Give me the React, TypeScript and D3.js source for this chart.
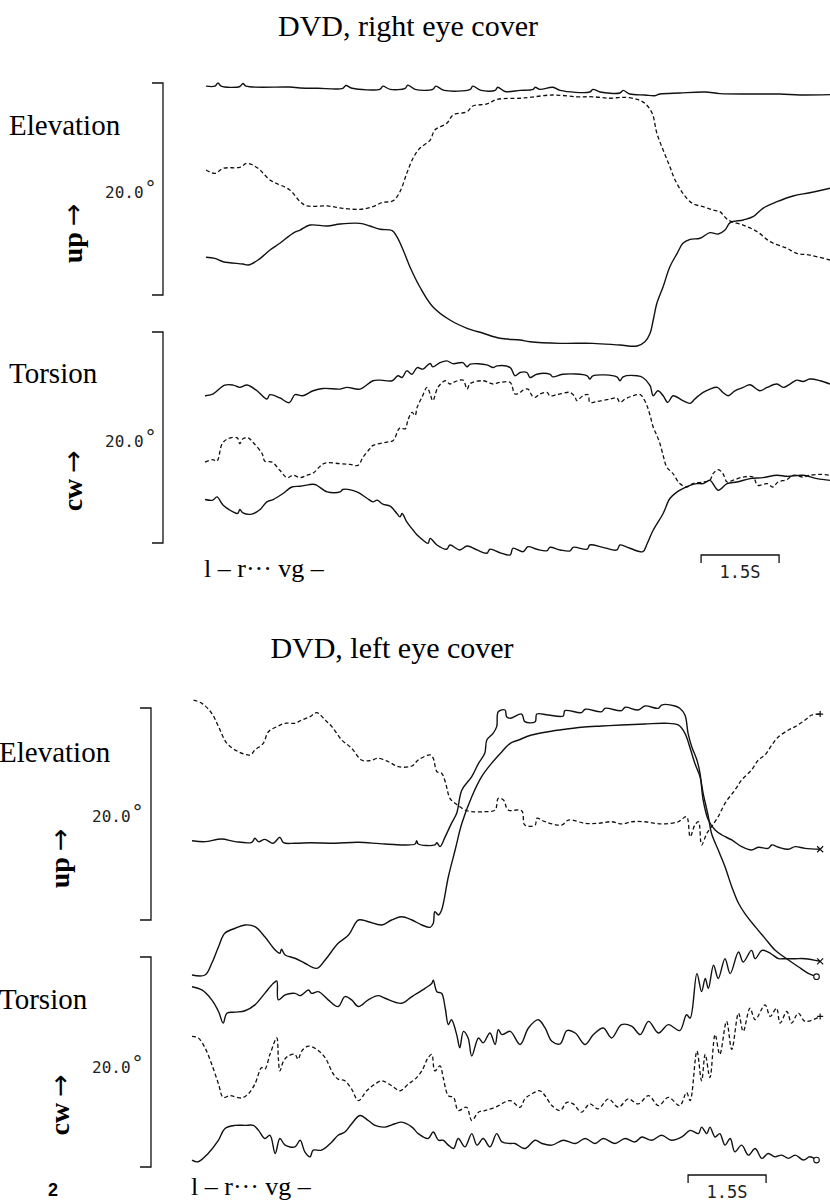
import * as d3 from 'd3';

// time in seconds, angle in degrees (0 = foot of the 20 deg bracket)
type Pt = [number, number];

// ---- DVD, right eye cover ----
const rightElevTop: Pt[] = [
  [0.02, 19.7], [0.19, 19.7], [0.25, 20.0], [0.31, 19.7], [0.67, 19.67], [0.73, 19.95], [0.79, 19.7], [1.63, 19.62],
  [1.83, 19.53], [2.17, 19.5], [2.65, 19.5], [2.71, 19.76], [2.83, 19.5], [3.37, 19.43], [3.42, 19.7], [3.56, 19.4],
  [3.85, 19.5], [3.9, 19.8], [4.04, 19.4], [4.38, 19.4], [4.44, 19.7], [4.6, 19.3], [5.1, 19.4], [5.15, 19.7],
  [5.31, 19.3], [5.58, 19.3], [5.63, 19.6], [5.77, 19.2], [6.06, 19.3], [6.31, 19.4], [6.35, 19.6], [6.44, 19.4],
  [6.69, 19.6], [6.83, 19.3], [7.4, 19.15], [7.46, 19.4], [7.6, 19.15], [7.98, 19.06], [8.04, 19.3], [8.17, 18.96],
  [8.46, 18.87], [8.65, 18.8], [8.75, 18.96], [9.13, 19.06], [9.62, 19.15], [9.9, 19.0], [10.48, 18.96],
  [11.06, 18.96], [11.44, 18.87], [12.02, 18.9],
];
const rightElevDashed: Pt[] = [
  [0.02, 11.79], [0.19, 11.48], [0.35, 11.95], [0.67, 12.05], [0.81, 12.42], [1.02, 11.95], [1.25, 10.85], [1.63, 9.91],
  [1.83, 8.8], [1.96, 8.4], [2.35, 8.4], [2.65, 8.18], [2.98, 8.08], [3.23, 8.33], [3.4, 8.71], [3.62, 8.9],
  [3.75, 9.75], [3.88, 11.48], [4.0, 12.9], [4.13, 13.84], [4.33, 14.62], [4.42, 15.57], [4.65, 16.2], [4.77, 16.98],
  [5.04, 17.29], [5.15, 17.83], [5.42, 18.02], [5.62, 18.46], [6.06, 18.56], [6.25, 18.65], [6.69, 18.87], [7.15, 18.7],
  [7.46, 18.7], [7.79, 18.56], [8.04, 18.65], [8.31, 18.46], [8.46, 18.08], [8.6, 17.14], [8.69, 15.25], [8.81, 13.68],
  [8.94, 12.1], [9.04, 10.85], [9.19, 9.59], [9.37, 8.65], [9.58, 8.33], [9.77, 8.02], [9.9, 7.86], [10.06, 7.08],
  [10.35, 6.6], [10.62, 5.97], [10.87, 5.03], [11.19, 4.41], [11.38, 3.93], [11.63, 3.77], [12.02, 3.3],
];
const rightElevBottom: Pt[] = [
  [0.02, 3.56], [0.19, 3.46], [0.35, 3.14], [0.73, 2.92], [0.83, 2.83], [1.02, 3.3], [1.25, 4.25], [1.44, 4.88],
  [1.69, 5.82], [1.83, 6.13], [2.02, 6.6], [2.35, 6.51], [2.6, 6.7], [2.98, 6.76], [3.17, 6.51], [3.37, 6.2],
  [3.6, 6.07], [3.69, 5.5], [3.81, 4.25], [3.94, 2.67], [4.13, 0.78], [4.38, -1.1], [4.71, -2.36], [5.04, -3.14],
  [5.35, -3.61], [5.67, -4.08], [6.06, -4.25], [6.25, -4.41], [6.83, -4.56], [7.46, -4.56], [7.98, -4.72],
  [8.31, -4.81], [8.46, -4.41], [8.56, -3.61], [8.62, -2.36], [8.69, -0.78], [8.81, 0.78], [8.94, 2.67], [9.08, 3.93],
  [9.19, 4.88], [9.33, 5.25], [9.52, 5.35], [9.71, 5.88], [9.87, 5.75], [10.0, 6.13], [10.1, 6.82], [10.35, 7.08],
  [10.54, 7.39], [10.73, 8.18], [11.0, 8.8], [11.31, 9.34], [11.63, 9.65], [12.02, 10.07],
];
const rightTorsTop: Pt[] = [
  [0, 13.96], [0.15, 14.12], [0.38, 14.97], [0.54, 14.97], [0.67, 14.75], [0.81, 14.97], [1.0, 14.43], [1.19, 13.65],
  [1.25, 14.06], [1.44, 13.75], [1.62, 13.3], [1.73, 14.06], [1.88, 13.96], [2.08, 14.43], [2.27, 14.65], [2.6, 14.59],
  [2.73, 14.75], [2.98, 14.59], [3.23, 15.38], [3.37, 15.44], [3.6, 15.38], [3.71, 15.85], [3.79, 15.69], [3.88, 16.32],
  [3.98, 16.0], [4.08, 16.63], [4.19, 16.48], [4.33, 17.01], [4.38, 16.7], [4.52, 17.1], [4.65, 17.26], [4.77, 17.0],
  [4.96, 17.1], [5.04, 16.7], [5.1, 16.95], [5.42, 16.89], [5.54, 16.63], [5.62, 16.79], [5.87, 16.63], [5.96, 15.85],
  [6.06, 16.16], [6.19, 16.16], [6.25, 15.69], [6.38, 16.0], [6.63, 16.0], [6.69, 15.75], [6.88, 16.0], [7.35, 15.85],
  [7.4, 15.54], [7.46, 15.85], [7.92, 15.75], [7.98, 15.38], [8.04, 15.75], [8.31, 15.85], [8.42, 15.69], [8.56, 14.91],
  [8.62, 13.96], [8.71, 14.43], [8.81, 13.96], [8.9, 13.33], [9.0, 13.96], [9.19, 13.49], [9.33, 13.24], [9.42, 13.65],
  [9.58, 14.27], [9.71, 14.59], [9.85, 14.75], [9.96, 14.27], [10.06, 13.96], [10.19, 14.43], [10.35, 14.75],
  [10.48, 15.0], [10.67, 14.43], [10.81, 14.75], [11.0, 15.07], [11.12, 14.75], [11.25, 15.07], [11.38, 15.44],
  [11.5, 15.31], [11.63, 15.54], [11.83, 15.38], [12.02, 15.07],
];
const rightTorsDashed: Pt[] = [
  [0, 7.67], [0.15, 7.9], [0.23, 7.76], [0.33, 9.41], [0.44, 9.88], [0.62, 9.97], [0.67, 9.41], [0.73, 9.88],
  [0.83, 9.97], [0.92, 9.56], [1.1, 8.46], [1.15, 7.76], [1.29, 7.67], [1.44, 6.89], [1.58, 6.2], [1.69, 6.42],
  [1.83, 6.2], [1.96, 6.42], [2.08, 6.63], [2.21, 7.26], [2.31, 7.58], [2.6, 7.52], [2.79, 7.45], [2.94, 7.36],
  [3.04, 8.14], [3.17, 8.93], [3.23, 9.25], [3.5, 9.56], [3.62, 9.72], [3.71, 10.66], [3.75, 10.92], [3.85, 10.82],
  [3.9, 11.6], [3.98, 12.39], [4.04, 12.08], [4.08, 12.86], [4.17, 13.8], [4.27, 14.75], [4.33, 14.12], [4.38, 13.49],
  [4.48, 14.75], [4.62, 15.38], [4.71, 15.07], [4.77, 15.22], [4.96, 15.44], [5.04, 14.59], [5.1, 15.12], [5.35, 15.38],
  [5.54, 15.07], [5.67, 15.22], [5.87, 15.22], [5.96, 14.12], [6.06, 14.27], [6.12, 14.5], [6.21, 14.59], [6.29, 13.96],
  [6.35, 13.8], [6.44, 14.12], [6.58, 14.27], [6.63, 13.96], [6.77, 14.06], [7.02, 14.27], [7.12, 13.8], [7.15, 13.49],
  [7.27, 13.96], [7.37, 14.06], [7.4, 13.33], [7.54, 13.42], [7.79, 13.65], [7.92, 13.75], [7.98, 13.33], [8.08, 13.65],
  [8.23, 13.96], [8.37, 14.06], [8.42, 13.8], [8.5, 13.02], [8.56, 12.08], [8.62, 10.97], [8.69, 10.19], [8.75, 9.41],
  [8.81, 8.3], [8.88, 7.2], [9.0, 6.58], [9.13, 5.63], [9.27, 5.31], [9.38, 5.63], [9.58, 5.78], [9.71, 5.94],
  [9.77, 6.58], [9.87, 6.95], [9.96, 6.58], [10.04, 5.78], [10.15, 5.94], [10.35, 6.25], [10.54, 6.25], [10.63, 5.47],
  [10.81, 5.63], [10.92, 5.31], [11.02, 5.78], [11.19, 6.01], [11.31, 6.42], [11.5, 6.25], [11.63, 6.42],
  [11.83, 6.51], [12.02, 6.42],
];
const rightTorsBottom: Pt[] = [
  [0, 4.12], [0.15, 4.06], [0.23, 4.37], [0.35, 3.58], [0.54, 2.95], [0.63, 2.8], [0.67, 3.18], [0.73, 2.86],
  [0.9, 2.74], [1.06, 3.18], [1.19, 3.9], [1.31, 4.12], [1.5, 4.69], [1.67, 5.31], [1.83, 5.38], [2.08, 5.57],
  [2.15, 5.47], [2.35, 4.84], [2.6, 4.84], [2.65, 5.07], [2.92, 4.84], [3.12, 4.22], [3.23, 3.9], [3.31, 4.06],
  [3.42, 3.68], [3.56, 3.49], [3.69, 2.8], [3.75, 2.48], [3.79, 2.8], [3.88, 2.01], [4.0, 1.23], [4.08, 0.75],
  [4.19, 0.28], [4.29, -0.03], [4.33, 0.44], [4.46, -0.19], [4.65, -0.59], [4.71, -0.19], [4.9, -0.66], [5.04, -0.28],
  [5.23, -0.66], [5.42, -0.97], [5.48, -0.59], [5.67, -0.92], [5.87, -1.13], [5.92, -0.5], [6.12, -0.82], [6.21, -0.35],
  [6.38, -0.59], [6.58, -0.73], [6.63, -0.41], [6.83, -0.66], [7.02, -0.75], [7.08, -0.41], [7.35, -0.59], [7.4, -0.19],
  [7.65, -0.41], [7.92, -0.66], [7.98, -0.19], [8.17, -0.5], [8.42, -0.82], [8.5, -0.09], [8.62, 1.23], [8.81, 2.8],
  [8.94, 4.22], [9.08, 4.84], [9.19, 5.16], [9.33, 5.47], [9.46, 5.63], [9.58, 5.63], [9.71, 5.94], [9.87, 5.0],
  [10.04, 5.63], [10.23, 5.78], [10.48, 6.1], [10.73, 6.2], [11.0, 6.42], [11.19, 6.32], [11.5, 6.42], [11.77, 6.1],
  [12.02, 5.94],
];

// ---- DVD, left eye cover ----
const leftElevDashed: Pt[] = [
  [0.03, 20.75], [0.19, 20.44], [0.38, 19.5], [0.51, 18.24], [0.67, 16.67], [0.89, 15.88], [1.12, 15.57], [1.21, 16.04],
  [1.37, 16.67], [1.47, 17.76], [1.66, 18.3], [1.79, 18.56], [1.98, 18.56], [2.11, 18.87], [2.27, 19.18], [2.4, 19.56],
  [2.56, 18.87], [2.69, 18.24], [2.88, 16.98], [3.07, 16.2], [3.26, 15.09], [3.42, 15.03], [3.58, 15.25], [3.78, 14.93],
  [3.97, 14.46], [4.23, 14.53], [4.35, 15.09], [4.58, 15.57], [4.64, 15.25], [4.71, 13.99], [4.8, 13.84], [4.87, 13.05],
  [4.96, 11.48], [5.06, 11.01], [5.15, 10.69], [5.25, 10.38], [5.38, 10.22], [5.63, 10.22], [5.83, 10.38], [5.89, 11.48],
  [5.99, 11.32], [6.08, 10.38], [6.34, 10.31], [6.4, 8.96], [6.6, 8.96], [6.63, 9.59], [6.79, 9.27], [7.11, 8.96],
  [7.24, 9.43], [7.56, 9.12], [7.81, 9.12], [8.07, 9.27], [8.26, 9.06], [8.46, 9.27], [8.71, 9.27], [9.03, 9.06],
  [9.35, 9.27], [9.51, 9.75], [9.58, 7.86], [9.67, 8.96], [9.74, 9.27], [9.8, 7.08], [9.9, 8.18], [9.99, 8.8],
  [10.12, 9.75], [10.25, 11.01], [10.44, 12.26], [10.57, 13.21], [10.76, 14.15], [10.89, 15.09], [11.02, 15.57],
  [11.15, 16.51], [11.28, 17.29], [11.47, 17.92], [11.6, 18.24], [11.79, 18.87], [11.92, 19.34], [12.08, 19.43],
];
const leftElevSolidA: Pt[] = [
  [0, 7.48], [0.25, 7.39], [0.57, 7.64], [0.83, 7.39], [1.15, 7.33], [1.21, 7.71], [1.28, 7.39], [1.4, 7.61],
  [1.56, 7.24], [1.69, 7.8], [1.76, 7.29], [1.98, 7.24], [2.3, 7.29], [2.75, 7.24], [3.2, 7.33], [3.71, 7.17],
  [4.29, 7.17], [4.32, 7.48], [4.35, 7.17], [4.67, 7.08], [4.71, 7.29], [4.77, 6.92], [4.87, 7.86], [4.99, 9.12],
  [5.09, 10.07], [5.19, 12.26], [5.38, 13.52], [5.51, 14.78], [5.63, 15.73], [5.67, 16.98], [5.79, 17.61], [5.86, 18.24],
  [5.89, 19.65], [6.02, 19.81], [6.05, 19.18], [6.12, 19.03], [6.34, 19.43], [6.4, 18.71], [6.6, 18.71], [6.63, 19.43],
  [6.85, 19.34], [7.14, 19.25], [7.17, 19.75], [7.49, 19.56], [7.56, 19.88], [7.88, 19.65], [7.94, 19.97], [8.26, 19.75],
  [8.33, 20.07], [8.58, 19.81], [8.71, 20.19], [8.97, 19.97], [9.03, 20.28], [9.29, 20.19], [9.38, 19.97], [9.48, 19.34],
  [9.54, 17.61], [9.61, 16.35], [9.71, 15.09], [9.77, 13.84], [9.83, 11.32], [9.93, 9.43], [10.06, 8.49], [10.19, 8.02],
  [10.38, 7.55], [10.57, 6.92], [10.76, 6.6], [10.89, 6.86], [11.08, 6.76], [11.15, 7.08], [11.28, 6.86], [11.47, 6.67],
  [11.6, 6.92], [11.79, 6.76], [12.08, 6.67],
];
const leftElevSolidB: Pt[] = [
  [0, -5.19], [0.25, -5.19], [0.38, -4.08], [0.51, -2.52], [0.63, -1.25], [0.83, -0.78], [1.02, -0.47], [1.21, -0.63],
  [1.4, -1.58], [1.6, -2.83], [1.69, -3.14], [1.72, -2.76], [1.79, -3.3], [1.98, -3.61], [2.17, -4.08], [2.4, -4.56],
  [2.56, -3.77], [2.81, -2.2], [3.01, -1.42], [3.2, 0], [3.39, -0.16], [3.65, -0.47], [3.84, 0], [4.03, 0.31],
  [4.23, 0], [4.42, -0.47], [4.58, -0.69], [4.64, -0.31], [4.67, 0.78], [4.74, 0.47], [4.8, 0.94], [4.93, 4.08],
  [5.06, 6.6], [5.19, 9.12], [5.38, 11.63], [5.57, 13.52], [5.76, 14.78], [5.96, 15.88], [6.12, 16.67], [6.28, 16.98],
  [6.53, 17.45], [6.85, 17.76], [7.17, 17.99], [7.49, 18.18], [7.88, 18.3], [8.26, 18.4], [8.71, 18.49], [9.1, 18.56],
  [9.35, 18.4], [9.48, 17.61], [9.58, 16.2], [9.67, 14.78], [9.77, 13.52], [9.83, 11.95], [9.93, 9.75], [9.99, 8.18],
  [10.12, 6.6], [10.25, 5.03], [10.38, 3.14], [10.51, 1.58], [10.63, 0.63], [10.83, -0.63], [11.02, -1.73],
  [11.21, -2.83], [11.47, -3.77], [11.66, -4.41], [11.85, -5.03], [12.01, -5.35],
];
const leftTorsTop: Pt[] = [
  [0, 17.17], [0.19, 16.86], [0.38, 15.92], [0.51, 14.81], [0.6, 13.71], [0.67, 14.65], [0.83, 14.75], [1.02, 14.88],
  [1.21, 15.44], [1.4, 16.54], [1.56, 17.48], [1.63, 17.71], [1.66, 15.92], [1.79, 16.39], [1.98, 16.54], [2.08, 16.32],
  [2.24, 16.86], [2.3, 16.54], [2.43, 16.7], [2.62, 15.92], [2.81, 15.28], [2.94, 16.23], [3.07, 15.92], [3.2, 15.28],
  [3.39, 15.92], [3.58, 16.32], [3.71, 16.07], [4.03, 15.59], [4.23, 16.23], [4.48, 17.01], [4.61, 17.48], [4.64, 17.8],
  [4.71, 16.7], [4.8, 16.54], [4.87, 15.12], [4.93, 13.56], [4.99, 14.03], [5.09, 12.61], [5.15, 11.35], [5.22, 12.92],
  [5.31, 12.29], [5.38, 10.57], [5.51, 12.29], [5.6, 11.82], [5.73, 12.76], [5.83, 11.67], [5.89, 13.08], [5.96, 12.61],
  [6.12, 12.92], [6.31, 11.67], [6.47, 13.24], [6.66, 14.03], [6.79, 13.24], [6.92, 11.98], [7.08, 11.73], [7.21, 12.99],
  [7.37, 12.76], [7.56, 11.67], [7.72, 12.61], [7.91, 13.24], [8.07, 12.29], [8.26, 13.56], [8.46, 13.4], [8.62, 12.61],
  [8.78, 13.87], [8.97, 12.76], [9.16, 13.56], [9.38, 12.99], [9.51, 14.5], [9.58, 14.18], [9.71, 18.42], [9.8, 16.7],
  [9.87, 17.95], [9.93, 17.01], [10.03, 19.22], [10.12, 17.95], [10.25, 19.84], [10.35, 18.42], [10.51, 20.47],
  [10.6, 19.53], [10.76, 20.63], [10.83, 19.84], [10.96, 20.63], [11.08, 20.47], [11.18, 20.16], [11.28, 19.84],
  [11.4, 19.84], [11.6, 19.84], [11.79, 19.84], [12.08, 19.59],
];
const leftTorsDashed: Pt[] = [
  [0, 12.45], [0.12, 12.29], [0.25, 11.35], [0.38, 9.78], [0.51, 7.9], [0.6, 6.63], [0.73, 6.79], [0.96, 6.58],
  [1.08, 6.95], [1.21, 7.9], [1.34, 9.46], [1.4, 9.31], [1.5, 10.73], [1.63, 12.29], [1.66, 10.41], [1.69, 9.15],
  [1.76, 10.09], [1.85, 10.57], [1.98, 10.73], [2.04, 10.25], [2.11, 11.04], [2.24, 11.51], [2.4, 11.2], [2.56, 10.41],
  [2.72, 8.84], [2.81, 8.37], [2.94, 8.21], [3.07, 7.42], [3.2, 6.32], [3.36, 7.26], [3.52, 7.9], [3.65, 8.21],
  [3.84, 7.74], [4.0, 7.26], [4.16, 7.9], [4.29, 8.37], [4.42, 9.15], [4.54, 10.41], [4.61, 10.73], [4.67, 9.15],
  [4.77, 9.62], [4.83, 8.52], [4.93, 6.79], [5.03, 6.63], [5.12, 5.38], [5.28, 5.69], [5.38, 4.43], [5.51, 5.22],
  [5.63, 5.38], [5.83, 5.69], [6.12, 6.32], [6.31, 5.69], [6.4, 6.48], [6.53, 6.95], [6.69, 7.26], [6.79, 6.79],
  [6.92, 5.85], [7.08, 5.38], [7.21, 6.16], [7.33, 6.01], [7.49, 5.22], [7.65, 6.01], [7.81, 5.54], [8.01, 6.48],
  [8.2, 5.69], [8.39, 6.48], [8.58, 6.01], [8.78, 6.79], [8.97, 5.85], [9.16, 6.63], [9.38, 5.85], [9.51, 7.1],
  [9.58, 6.32], [9.71, 11.04], [9.8, 8.21], [9.87, 10.73], [9.96, 8.52], [10.06, 12.61], [10.15, 10.73], [10.28, 13.87],
  [10.38, 11.2], [10.51, 14.65], [10.6, 12.92], [10.73, 15.12], [10.83, 14.03], [11.02, 15.44], [11.12, 14.34],
  [11.24, 15.12], [11.31, 13.71], [11.44, 14.81], [11.53, 13.71], [11.66, 14.65], [11.79, 13.87], [12.08, 14.34],
];
const leftTorsBottom: Pt[] = [
  [0, 0.66], [0.12, 0.5], [0.31, 1.29], [0.51, 2.55], [0.63, 3.65], [0.83, 3.96], [1.02, 3.96], [1.18, 3.96],
  [1.28, 3.49], [1.4, 2.71], [1.5, 3.02], [1.6, 1.29], [1.69, 2.71], [1.79, 2.08], [1.98, 1.92], [2.08, 2.55],
  [2.17, 1.44], [2.27, 0.97], [2.33, 1.6], [2.49, 1.6], [2.69, 2.39], [2.81, 3.02], [2.94, 3.33], [3.07, 4.12],
  [3.23, 4.91], [3.39, 4.43], [3.52, 3.96], [3.71, 3.8], [3.9, 4.12], [4.03, 4.27], [4.23, 3.8], [4.35, 3.18],
  [4.54, 2.71], [4.64, 3.33], [4.74, 2.55], [4.83, 2.55], [4.93, 2.08], [5.03, 1.76], [5.12, 2.71], [5.25, 1.92],
  [5.38, 3.18], [5.48, 2.08], [5.6, 2.71], [5.73, 1.92], [5.86, 3.18], [5.96, 2.39], [6.12, 2.24], [6.21, 2.24],
  [6.4, 1.76], [6.6, 2.55], [6.73, 2.24], [6.92, 2.08], [7.14, 2.55], [7.37, 2.24], [7.56, 2.71], [7.75, 2.24],
  [7.91, 2.71], [8.13, 2.24], [8.33, 2.71], [8.52, 2.39], [8.65, 2.86], [8.84, 2.55], [9.03, 3.02], [9.22, 2.55],
  [9.42, 2.86], [9.58, 3.49], [9.74, 3.18], [9.8, 3.8], [9.9, 3.18], [9.96, 3.8], [10.06, 2.86], [10.15, 3.18],
  [10.25, 2.08], [10.35, 2.71], [10.44, 1.44], [10.57, 2.08], [10.7, 1.13], [10.83, 1.76], [10.96, 0.82],
  [11.08, 1.29], [11.21, 0.97], [11.34, 1.13], [11.47, 0.82], [11.6, 1.13], [11.76, 0.66], [11.88, 0.97], [12.01, 0.66],
];

const legendText = 'l – r··· vg –';
const rangeValue = '20.0';
const scaleBarSeconds = 1.5;
const scaleBarStart = 9.54;
const timeSpan = 12;

type Trace = { data: Pt[]; dashed?: boolean; marker?: '+' | 'x' | 'o' };

const SERIF = '"Liberation Serif", "Times New Roman", serif';
const MONO = '"DejaVu Sans Mono", monospace';

function EndMarker({ kind, x, y }: { kind: string; x: number; y: number }) {
  const s = 3;
  if (kind === 'o') return <circle cx={x} cy={y} r={2.8} fill="white" stroke="#111" strokeWidth={1.1} />;
  if (kind === '+')
    return <path d={`M${x - s},${y}H${x + s}M${x},${y - s}V${y + s}`} stroke="#111" strokeWidth={1.2} />;
  return <path d={`M${x - s},${y - s}L${x + s},${y + s}M${x - s},${y + s}L${x + s},${y - s}`} stroke="#111" strokeWidth={1.2} />;
}

function SubPlot(props: {
  label: string; labelX: number; labelY: number;
  axisWord: string; wordX: number;
  rangeX: number; rangeY: number;
  bracketX: number; top: number; bottom: number;
  xScale: d3.ScaleLinear<number, number>;
  traces: Trace[];
}) {
  const y = d3.scaleLinear().domain([0, 20]).range([props.bottom, props.top]);
  const line = d3.line<Pt>()
    .x((d) => props.xScale(d[0]))
    .y((d) => y(d[1]))
    .curve(d3.curveCatmullRom.alpha(0.5));
  const bx = props.bracketX;
  const wordStart = y(0) - (y(0) - y(20)) * 0.15;
  return (
    <g>
      <text x={props.labelX} y={props.labelY} fontFamily={SERIF} fontSize={29}>{props.label}</text>
      <text transform={`translate(${props.wordX},${wordStart}) rotate(-90)`} fontFamily={SERIF} fontSize={28}>
        <tspan fontWeight="bold">{props.axisWord}</tspan>
        <tspan fontFamily='"DejaVu Sans", sans-serif' fontSize={27} dx={6}>→</tspan>
      </text>
      <text x={props.rangeX} y={props.rangeY} fontFamily={MONO} fontSize={16} fill="#222">
        {rangeValue}
        <tspan fontSize={20} dx={1} dy={-3}>°</tspan>
      </text>
      <path d={`M${bx - 11},${y(20)}H${bx}V${y(0)}H${bx - 11}`} fill="none" stroke="#111" strokeWidth={1.3} />
      {props.traces.map((t, i) => (
        <path key={i} d={line(t.data) || ''} fill="none" stroke="#111"
          strokeWidth={t.dashed ? 1.3 : 1.4} strokeDasharray={t.dashed ? '4 2.6' : undefined} strokeLinejoin="round" />
      ))}
      {props.traces.filter((t) => t.marker).map((t, i) => {
        const last = t.data[t.data.length - 1];
        return <EndMarker key={i} kind={t.marker as string} x={props.xScale(last[0])} y={y(last[1])} />;
      })}
    </g>
  );
}

function Panel(props: {
  title: string; titleX: number; titleY: number;
  x0: number; bracketX: number; labelX: number; wordX: number; rangeX: number;
  elev: { top: number; bottom: number; labelY: number; rangeY: number; traces: Trace[] };
  tors: { top: number; bottom: number; labelY: number; rangeY: number; traces: Trace[] };
  legendX: number; legendY: number; barY: number;
}) {
  const x = d3.scaleLinear().domain([0, timeSpan]).range([props.x0, props.x0 + 52 * timeSpan]);
  const b0 = x(scaleBarStart);
  const b1 = x(scaleBarStart + scaleBarSeconds);
  return (
    <g>
      <text x={props.titleX} y={props.titleY} textAnchor="middle" fontFamily={SERIF} fontSize={30}>{props.title}</text>
      <SubPlot label="Elevation" labelX={props.labelX} labelY={props.elev.labelY} axisWord="up" wordX={props.wordX}
        rangeX={props.rangeX} rangeY={props.elev.rangeY} bracketX={props.bracketX}
        top={props.elev.top} bottom={props.elev.bottom} xScale={x} traces={props.elev.traces} />
      <SubPlot label="Torsion" labelX={props.labelX} labelY={props.tors.labelY} axisWord="cw" wordX={props.wordX}
        rangeX={props.rangeX} rangeY={props.tors.rangeY} bracketX={props.bracketX}
        top={props.tors.top} bottom={props.tors.bottom} xScale={x} traces={props.tors.traces} />
      <text x={props.legendX} y={props.legendY} fontFamily={SERIF} fontSize={26}>{legendText}</text>
      <path d={`M${b0},${props.barY + 8}V${props.barY}H${b1}V${props.barY + 8}`} fill="none" stroke="#111" strokeWidth={1.3} />
      <text x={(b0 + b1) / 2} y={props.barY + 23} textAnchor="middle" fontFamily={MONO} fontSize={17} fill="#222">1.5S</text>
    </g>
  );
}

export default function App() {
  return (
    <svg width={830} height={1203} viewBox="0 0 830 1203"
      style={{ position: 'absolute', left: 0, top: 0, background: 'white' }}>
      <Panel title="DVD, right eye cover" titleX={408} titleY={36}
        x0={205} bracketX={163} labelX={9} wordX={82} rangeX={105}
        elev={{ top: 83, bottom: 295, labelY: 135, rangeY: 198, traces: [
          { data: rightElevTop }, { data: rightElevDashed, dashed: true }, { data: rightElevBottom },
        ] }}
        tors={{ top: 332, bottom: 543, labelY: 383, rangeY: 447, traces: [
          { data: rightTorsTop }, { data: rightTorsDashed, dashed: true }, { data: rightTorsBottom },
        ] }}
        legendX={204} legendY={577} barY={555} />
      <Panel title="DVD, left eye cover" titleX={392} titleY={658}
        x0={192} bracketX={151} labelX={-1} wordX={69} rangeX={92}
        elev={{ top: 708, bottom: 920, labelY: 762, rangeY: 822, traces: [
          { data: leftElevDashed, dashed: true, marker: '+' }, { data: leftElevSolidA, marker: 'x' },
          { data: leftElevSolidB, marker: 'o' },
        ] }}
        tors={{ top: 957, bottom: 1167, labelY: 1009, rangeY: 1073, traces: [
          { data: leftTorsTop, marker: 'x' }, { data: leftTorsDashed, dashed: true, marker: '+' },
          { data: leftTorsBottom, marker: 'o' },
        ] }}
        legendX={191} legendY={1195} barY={1175} />
      <text x={48} y={1196} fontFamily='"Liberation Sans", Arial, sans-serif' fontWeight="bold" fontSize={18}>2</text>
    </svg>
  );
}
